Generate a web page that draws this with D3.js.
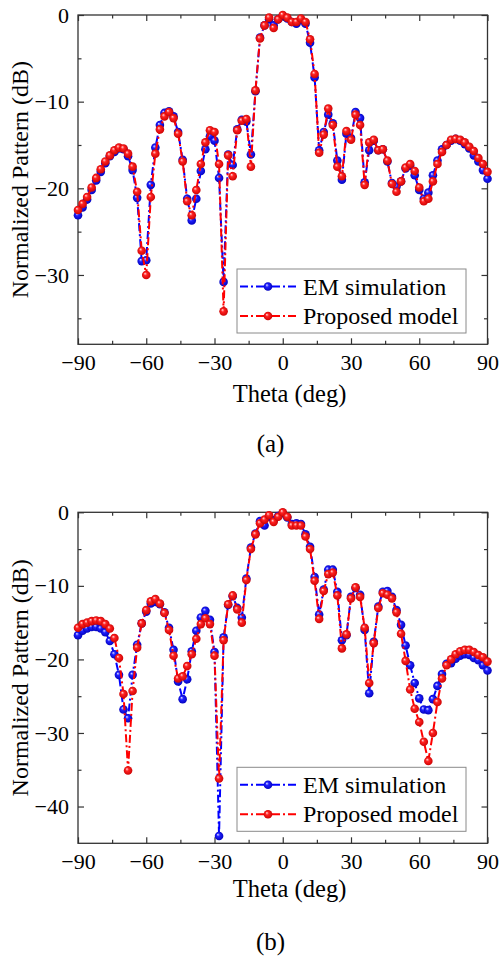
<!DOCTYPE html>
<html><head><meta charset="utf-8">
<script src="https://cdn.jsdelivr.net/npm/d3@7"></script>
<style>body{margin:0;background:#fff}svg{display:block}</style>
</head><body><svg id="c" width="499" height="957"></svg>
<script>
const theta = [-90,-88,-86,-84,-82,-80,-78,-76,-74,-72,-70,-68,-66,-64,-62,-60,-58,-56,-54,-52,-50,-48,-46,-44,-42,-40,-38,-36,-34,-32,-30,-28,-26,-24,-22,-20,-18,-16,-14,-12,-10,-8,-6,-4,-2,0,2,4,6,8,10,12,14,16,18,20,22,24,26,28,30,32,34,36,38,40,42,44,46,48,50,52,54,56,58,60,62,64,66,68,70,72,74,76,78,80,82,84,86,88,90];

const emA = [-23.1,-22.2,-21.3,-20.2,-19.1,-18.1,-17.1,-16.3,-15.8,-15.4,-15.5,-16.3,-17.9,-21.1,-28.4,-28.3,-19.6,-15.3,-12.7,-11.3,-11.1,-11.7,-13.5,-16.7,-21.2,-23.7,-21.2,-18.0,-15.5,-14.0,-14.5,-18.8,-30.8,-16.1,-17.3,-13.2,-12.1,-12.3,-16.1,-8.8,-2.6,-1.2,-0.5,-1.2,-0.5,-0.1,-0.4,-0.8,-1.0,-0.6,-1.0,-3.2,-7.2,-15.6,-13.5,-11.5,-12.5,-16.8,-19.0,-13.7,-14.2,-11.2,-11.9,-19.3,-15.6,-14.5,-15.6,-15.5,-16.9,-19.4,-19.8,-19.2,-17.7,-17.4,-18.5,-20.2,-21.2,-20.5,-18.5,-16.8,-15.5,-15.0,-14.5,-14.3,-14.5,-14.9,-15.4,-16.2,-16.9,-17.9,-18.9];
const modelA = [-22.5,-21.8,-21.0,-19.9,-18.8,-17.8,-16.9,-16.2,-15.6,-15.3,-15.4,-16.0,-17.5,-20.4,-27.2,-30.0,-21.0,-16.0,-13.2,-11.7,-11.2,-11.9,-13.7,-16.9,-21.5,-23.1,-20.2,-17.2,-14.7,-13.3,-13.5,-17.2,-34.2,-16.2,-18.6,-13.3,-12.2,-12.0,-17.5,-8.7,-2.7,-1.2,-0.3,-1.5,-0.5,0.0,-0.3,-0.8,-0.8,-0.4,-0.8,-2.8,-6.8,-15.9,-13.8,-10.8,-12.7,-17.5,-18.6,-13.4,-14.4,-11.5,-12.7,-19.6,-14.7,-14.4,-15.6,-15.5,-16.8,-19.5,-20.4,-19.2,-17.6,-17.2,-18.0,-19.9,-21.5,-21.2,-19.2,-17.2,-15.8,-15.0,-14.4,-14.3,-14.4,-14.7,-15.2,-15.7,-16.5,-17.2,-18.1];

const emB = [-16.7,-16.1,-15.8,-15.6,-15.6,-15.8,-16.3,-17.5,-19.3,-22.1,-26.8,-28.0,-22.1,-18.0,-15.1,-13.5,-12.4,-12.2,-12.5,-13.6,-15.7,-18.7,-23.0,-25.4,-22.7,-18.9,-16.1,-14.3,-13.4,-14.6,-19.0,-44.0,-17.0,-12.6,-11.4,-13.0,-14.3,-9.0,-4.8,-2.9,-1.2,-1.8,-0.6,-1.1,-0.5,-0.1,-0.7,-1.6,-1.5,-1.6,-3.0,-4.7,-8.8,-13.9,-10.5,-7.8,-7.8,-10.8,-17.4,-16.7,-11.5,-10.3,-11.2,-16.0,-24.6,-17.6,-12.8,-10.8,-10.7,-11.5,-13.3,-15.3,-18.1,-20.8,-23.2,-25.3,-26.8,-26.9,-25.4,-23.6,-22.0,-20.6,-20.5,-19.9,-19.5,-19.3,-19.4,-19.8,-20.1,-20.8,-21.5];
const modelB = [-15.7,-15.2,-15.0,-14.8,-14.7,-14.8,-15.2,-15.8,-17.1,-19.8,-24.7,-35.1,-24.3,-18.4,-15.1,-13.3,-12.1,-11.8,-12.4,-13.7,-16.0,-19.5,-22.6,-22.3,-20.9,-19.3,-17.2,-15.2,-14.4,-15.2,-19.5,-36.2,-17.4,-12.5,-11.3,-13.2,-15.0,-9.2,-5.0,-3.0,-1.5,-1.0,-0.4,-1.3,-0.6,0.0,-0.6,-1.8,-1.8,-1.8,-3.3,-5.0,-9.3,-14.5,-10.7,-8.4,-8.2,-11.3,-18.5,-16.6,-11.7,-10.2,-11.5,-15.7,-23.2,-17.8,-13.0,-11.0,-11.2,-11.7,-13.6,-16.5,-20.2,-24.1,-26.7,-28.5,-31.2,-33.8,-30.0,-25.8,-22.6,-20.8,-20.0,-19.3,-18.9,-18.7,-18.7,-19.0,-19.4,-19.7,-20.3];

const xTicks = [-90,-60,-30,0,30,60,90];
const xMinor = [-75,-45,-15,15,45,75];
const yTicksA = [0,-10,-20,-30];
const yMinorA = [-5,-15,-25,-35];
const yTicksB = [0,-10,-20,-30,-40];
const yMinorB = [-5,-15,-25,-35];
const seriesNames = ["EM simulation","Proposed model"];
const panelLabels = ["(a)","(b)"];
const xTitle = "Theta (deg)";
const yTitle = "Normalized Pattern (dB)";

const svg = d3.select("#c");
const defs = svg.append("defs");
function grad(id, hi, mid, lo){
  const g = defs.append("radialGradient").attr("id",id).attr("cx","50%").attr("cy","50%").attr("r","55%").attr("fx","35%").attr("fy","32%");
  g.append("stop").attr("offset","0%").attr("stop-color",hi);
  g.append("stop").attr("offset","35%").attr("stop-color",mid);
  g.append("stop").attr("offset","100%").attr("stop-color",lo);
}
grad("gb","#e4e4ff","#1f1fff","#0000b8");
grad("gr","#ffe0e0","#ff2222","#c80000");

const FONT = "'Liberation Serif','Times New Roman',serif";
const colors = ["#0000ff","#ff0000"];
const grads = ["url(#gb)","url(#gr)"];
const dash = "8,3,2,3";
const R = 4.3;

function panel(cfg){
  const x = d3.scaleLinear().domain([-90,90]).range([78,487.5]);
  const y = d3.scaleLinear().domain([cfg.ymin,0]).range([cfg.bottom,cfg.top]);
  const g = svg.append("g");
  const L = x.range()[0], Rr = x.range()[1], T = cfg.top, B = cfg.bottom;

  function styleAxis(sel){
    sel.select(".domain").remove();
    sel.selectAll("line").attr("stroke","#333").attr("stroke-width",1.2);
    sel.selectAll("text").attr("font-family",FONT).attr("font-size",22).attr("fill","#000");
  }
  g.append("g").attr("transform",`translate(0,${B})`).call(d3.axisBottom(x).tickValues(xTicks).tickFormat(d3.format("d")).tickSize(-6).tickPadding(10)).call(styleAxis);
  g.append("g").attr("transform",`translate(0,${B})`).call(d3.axisBottom(x).tickValues(xMinor).tickFormat("").tickSize(-3.5)).call(styleAxis);
  g.append("g").attr("transform",`translate(0,${T})`).call(d3.axisTop(x).tickValues(xTicks).tickFormat("").tickSize(-6)).call(styleAxis);
  g.append("g").attr("transform",`translate(0,${T})`).call(d3.axisTop(x).tickValues(xMinor).tickFormat("").tickSize(-3.5)).call(styleAxis);
  g.append("g").attr("transform",`translate(${L},0)`).call(d3.axisLeft(y).tickValues(cfg.yTicks).tickFormat(d3.format("d")).tickSize(-6).tickPadding(9)).call(styleAxis);
  g.append("g").attr("transform",`translate(${L},0)`).call(d3.axisLeft(y).tickValues(cfg.yMinor).tickFormat("").tickSize(-3.5)).call(styleAxis);
  g.append("g").attr("transform",`translate(${Rr},0)`).call(d3.axisRight(y).tickValues(cfg.yTicks).tickFormat("").tickSize(-6)).call(styleAxis);
  g.append("g").attr("transform",`translate(${Rr},0)`).call(d3.axisRight(y).tickValues(cfg.yMinor).tickFormat("").tickSize(-3.5)).call(styleAxis);
  g.append("rect").attr("x",L).attr("y",T).attr("width",Rr-L).attr("height",B-T)
    .attr("fill","none").attr("stroke","#333").attr("stroke-width",1.3);

  const line = d3.line().x((d,i)=>x(theta[i])).y(d=>y(d));
  cfg.series.forEach((s,k)=>{
    g.append("path").datum(s).attr("d",line).attr("fill","none")
      .attr("stroke",colors[k]).attr("stroke-width",2).attr("stroke-dasharray",dash);
    g.append("g").selectAll("circle").data(s).join("circle")
      .attr("cx",(d,i)=>x(theta[i])).attr("cy",d=>y(d)).attr("r",R).attr("fill",grads[k]);
  });

  const lg = g.append("g");
  lg.append("rect").attr("x",cfg.legX).attr("y",cfg.legY).attr("width",229).attr("height",64)
    .attr("fill","#fff").attr("stroke","#8a8a8a").attr("stroke-width",1);
  seriesNames.forEach((n,k)=>{
    const yy = cfg.legY + 17.5 + k*29.5;
    lg.append("line").attr("x1",cfg.legX+3).attr("x2",cfg.legX+59).attr("y1",yy).attr("y2",yy)
      .attr("stroke",colors[k]).attr("stroke-width",2).attr("stroke-dasharray",dash);
    lg.append("circle").attr("cx",cfg.legX+31).attr("cy",yy).attr("r",R).attr("fill",grads[k]);
    lg.append("text").attr("x",cfg.legX+66).attr("y",yy+8).text(n)
      .attr("font-family",FONT).attr("font-size",24).attr("fill","#000");
  });

  g.append("text").attr("x",289.5).attr("y",B+cfg.xtOff).attr("text-anchor","middle").text(xTitle)
    .attr("font-family",FONT).attr("font-size",24.5);
  g.append("text").attr("transform",`translate(28,${(T+B)/2}) rotate(-90)`).attr("text-anchor","middle").text(yTitle)
    .attr("font-family",FONT).attr("font-size",24);
  g.append("text").attr("x",270.5).attr("y",cfg.labY).attr("text-anchor","middle").text(cfg.label)
    .attr("font-family",FONT).attr("font-size",25);
}

panel({top:15, bottom:344.3, ymin:-38, yTicks:yTicksA, yMinor:yMinorA, series:[emA,modelA],
  legX:237, legY:269, xtOff:58, labY:452, label:panelLabels[0]});
panel({top:512.3, bottom:843.3, ymin:-45, yTicks:yTicksB, yMinor:yMinorB, series:[emB,modelB],
  legX:237, legY:767.3, xtOff:54, labY:950, label:panelLabels[1]});
</script></body></html>
